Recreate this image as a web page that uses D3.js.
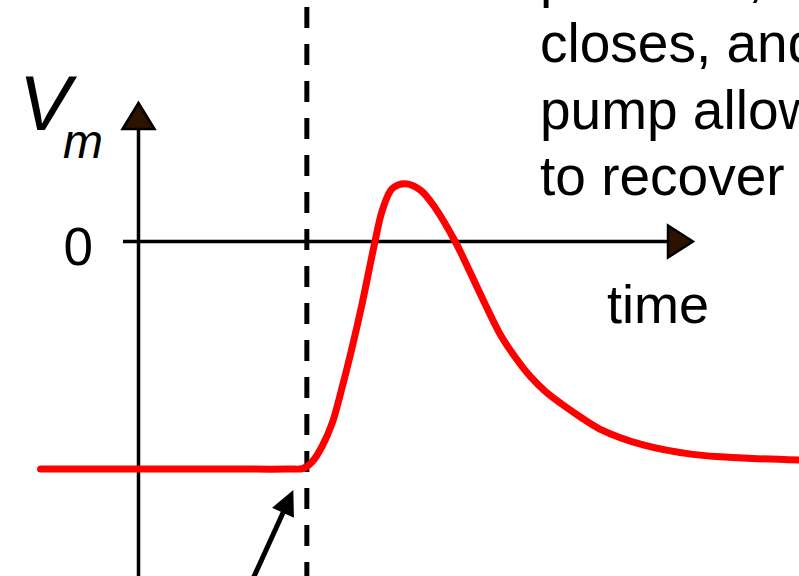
<!DOCTYPE html>
<html>
<head>
<meta charset="utf-8">
<script src="https://cdn.jsdelivr.net/npm/d3@7"></script>
<style>
  html, body { margin: 0; padding: 0; background: #fff; }
  svg { display: block; }
</style>
</head>
<body>
<div id="chart"></div>
<script>
// membrane potential trace (time in arbitrary units, Vm in mV)
const time = [-1.76, 1.5, 2.7, 2.96, 3.12, 3.30, 3.48, 3.66, 3.84, 4.02, 4.17, 4.25, 4.38, 4.56, 4.79,
              5.06, 5.33, 5.69, 5.96, 6.23, 6.50, 6.77, 7.04, 7.31, 7.58, 7.94, 8.29, 9.07, 9.96, 10.86, 12.0];
const vm   = [-70, -70, -70, -69.8, -67.8, -63.0, -55.9, -44.8, -32.5, -19.0, -6.5, 0, 9.5, 16.3, 17.8,
              15.9, 10.4, 0, -9.5, -19.3, -28.6, -35.6, -41.5, -46.1, -49.7, -54.0, -57.7, -62.6, -65.5, -66.6, -67.3];
const stimTime = 3.025;
const zeroLabel = "0";
const timeLabel = "time";
const noteLines = ["potential,", "closes, and", "pump allows", "to recover"];

const width = 799;
const height = 576;

const x = d3.scaleLinear().domain([0, 10]).range([138.5, 695]);
const y = d3.scaleLinear().domain([-70, 0]).range([469, 241.5]);

const svg = d3.select("#chart")
  .append("svg")
    .attr("width", width)
    .attr("height", height)
    .attr("viewBox", [0, 0, width, height])
    .style("font-family", "'Liberation Sans', Arial, Helvetica, sans-serif");

// axes
const x0 = x(0), y0 = y(0);
const yTip = 103;
svg.append("line")
    .attr("x1", x0).attr("x2", x0)
    .attr("y1", height).attr("y2", yTip + 20)
    .attr("stroke", "#000").attr("stroke-width", 3.5);
svg.append("line")
    .attr("x1", 123).attr("x2", x(10) - 20)
    .attr("y1", y0).attr("y2", y0)
    .attr("stroke", "#000").attr("stroke-width", 3.5);

const arrowFill = "#2e1200";
svg.append("path")
    .attr("d", `M${x0},${yTip} L${x0 - 16},${yTip + 26} L${x0 + 16},${yTip + 26} Z`)
    .attr("fill", arrowFill).attr("stroke", "#000").attr("stroke-width", 2.5);
svg.append("path")
    .attr("d", `M${x(10) - 2},${y0} L${x(10) - 27},${y0 - 16} L${x(10) - 27},${y0 + 16} Z`)
    .attr("fill", arrowFill).attr("stroke", "#000").attr("stroke-width", 2.5);

// stimulus marker
svg.append("line")
    .attr("x1", x(stimTime)).attr("x2", x(stimTime))
    .attr("y1", 0).attr("y2", height)
    .attr("stroke", "#000").attr("stroke-width", 5)
    .attr("stroke-dasharray", "21,16")
    .attr("stroke-dashoffset", 30);

// trace
const line = d3.line()
    .x((d, i) => x(time[i]))
    .y(d => y(d))
    .curve(d3.curveCatmullRom.alpha(0.5));

svg.append("path")
    .datum(vm)
    .attr("d", line)
    .attr("fill", "none")
    .attr("stroke", "#ff0000")
    .attr("stroke-width", 7)
    .attr("stroke-linecap", "round")
    .attr("stroke-linejoin", "round");

// pointer arrow to stimulus onset
const tipX = x(stimTime) - 13.5, tipY = y(-70) + 21;
const startX = tipX - 40, startY = height + 2;
const dx = tipX - startX, dy = tipY - startY, len = Math.hypot(dx, dy);
const ux = dx / len, uy = dy / len;
const headLen = 25, headHalf = 12;
const bx = tipX - ux * headLen, by = tipY - uy * headLen;
svg.append("line")
    .attr("x1", startX).attr("y1", startY)
    .attr("x2", bx + ux * 2).attr("y2", by + uy * 2)
    .attr("stroke", "#000").attr("stroke-width", 5);
svg.append("path")
    .attr("d", `M${tipX},${tipY} L${bx - uy * headHalf},${by + ux * headHalf} L${bx + uy * headHalf},${by - ux * headHalf} Z`)
    .attr("fill", "#000");

// labels
svg.append("text")
    .attr("x", 19).attr("y", 130)
    .attr("font-size", 78).attr("font-style", "italic")
    .text("V");
svg.append("text")
    .attr("x", 63).attr("y", 158)
    .attr("font-size", 48).attr("font-style", "italic")
    .text("m");

svg.append("text")
    .attr("x", 93).attr("y", 265)
    .attr("text-anchor", "end")
    .attr("font-size", 53)
    .text(zeroLabel);

svg.append("text")
    .attr("x", 607).attr("y", 323)
    .attr("font-size", 54)
    .text(timeLabel);

svg.append("g")
  .selectAll("text")
  .data(noteLines)
  .join("text")
    .attr("x", 540)
    .attr("y", (d, i) => -4.5 + i * 66.5)
    .attr("font-size", 55)
    .text(d => d);
</script>
</body>
</html>
